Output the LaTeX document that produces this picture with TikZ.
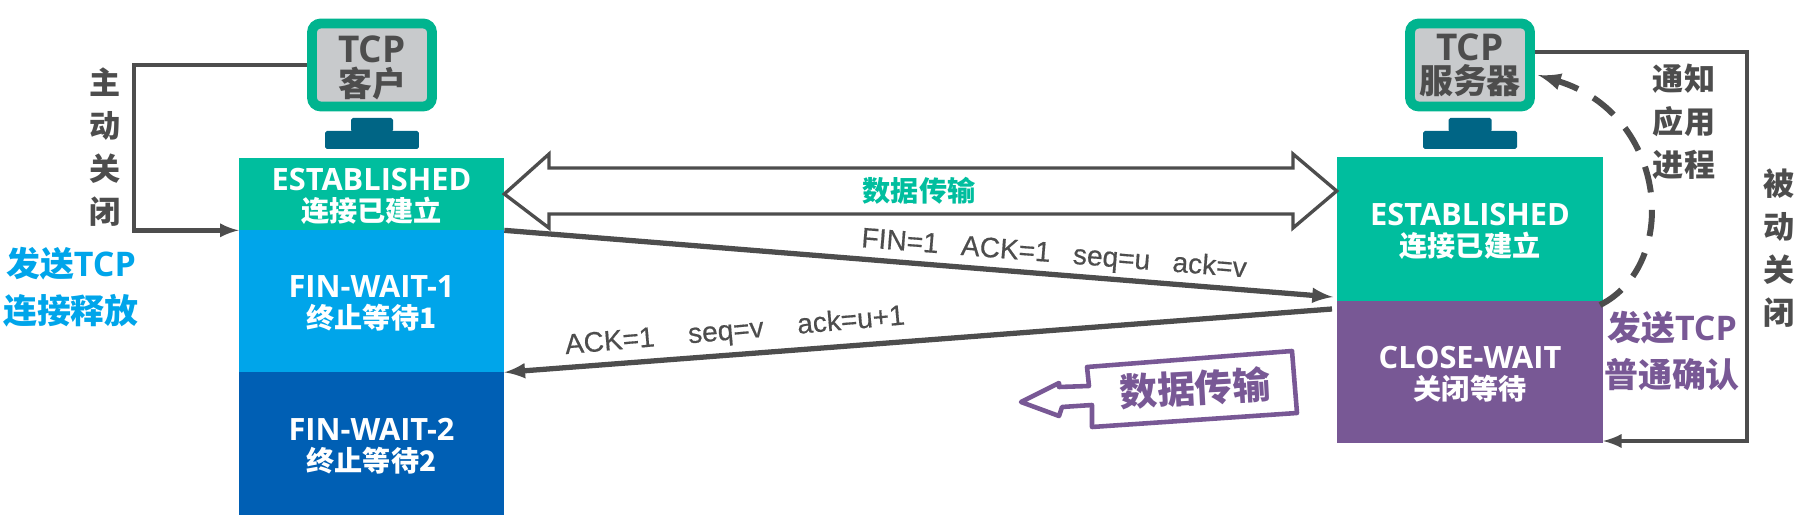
\documentclass[tikz,border=0pt]{standalone}
\usepackage{fontspec}
\setmainfont{Open Sans}
\newfontfamily\cjk{Noto Sans CJK SC}
\newfontfamily\arial[FakeBold=0.5]{Liberation Sans}
\definecolor{vert}{HTML}{00BE9E}
\definecolor{bleu}{HTML}{00A5EA}
\definecolor{marine}{HTML}{005FB4}
\definecolor{violet}{HTML}{785895}
\definecolor{cadre}{HTML}{00B48F}
\definecolor{ecran}{HTML}{C8CACC}
\definecolor{pied}{HTML}{006585}
\definecolor{gris}{HTML}{4D4D4D}
\newcommand{\zhetat}[1]{{\cjk\fontsize{16}{17.6}\selectfont #1}}
\newcommand{\zhecran}[1]{{\cjk\fontsize{19.3}{19.5}\selectfont #1}}
\newcommand{\haut}{\rule{0pt}{15.5pt}}
\tikzset{
  etat/.style={rectangle,minimum width=#1,inner sep=0pt,text=white,align=center,
    font=\fontsize{17.5}{17.6}\selectfont\bfseries},
  etat/.default=5.3cm,
  ecranbox/.style={rectangle,rounded corners=5pt,draw=cadre,fill=ecran,line width=5.6pt,
    minimum height=1.66cm,inner sep=0pt,text=gris,align=center,
    font=\fontsize{21}{19}\selectfont\bfseries},
  piedbox/.style={rectangle,fill=pied,inner sep=0pt,rounded corners=1pt},
  fleche/.style={-latex,gris,line width=2.6pt},
  colonne/.style={gris,align=center,font=\fontsize{17.7}{24.6}\selectfont\cjk\bfseries},
  signal/.style={gris,font=\fontsize{16}{18}\selectfont\arial},
  envoi/.style={align=center,font=\fontsize{19.3}{26.6}\selectfont\bfseries},
}
\begin{document}
\begin{tikzpicture}[x=0.02cm,y=-0.02cm]
  \useasboundingbox (0,0) rectangle (1805,523);

  \node[etat,fill=vert,minimum height=1.44cm] at (371.5,194) (cest) {\haut ESTABLISHED\\\zhetat{连接已建立}};
  \node[etat,fill=bleu,minimum height=2.84cm] at (371.5,301) (fwa) {\haut FIN-WAIT-1\\\zhetat{终止等待1}};
  \node[etat,fill=marine,minimum height=2.86cm] at (371.5,443.5) (fwb) {\haut FIN-WAIT-2\\\zhetat{终止等待2}};

  \node[etat=5.32cm,fill=vert,minimum height=2.88cm] at (1470,229) (sest) {\haut ESTABLISHED\\\zhetat{连接已建立}};
  \node[etat=5.32cm,fill=violet,minimum height=2.84cm] at (1470,372) (cw) {\haut CLOSE-WAIT\\\zhetat{关闭等待}};

  \node[ecranbox,minimum width=2.4cm] at (372,65) (cmon) {\rule{0pt}{18.5pt}TCP\\\zhecran{客户}};
  \node[piedbox,minimum width=0.84cm,minimum height=0.28cm] at (372,125) (cneck) {};
  \node[piedbox,minimum width=1.88cm,minimum height=0.36cm] at (372,140) (cbase) {};

  \node[ecranbox,minimum width=2.4cm] at (1470,65) (smon) {TCP\\\zhecran{服务器}};
  \node[piedbox,minimum width=0.86cm,minimum height=0.28cm] at (1470,125) (sneck) {};
  \node[piedbox,minimum width=1.88cm,minimum height=0.36cm] at (1470,140) (sbase) {};

  \coordinate (cturn) at (134,65);
  \coordinate (sout) at (1535,52);
  \coordinate (sturn) at (1747,52);
  \coordinate (sback) at (1603,441);
  \coordinate (finend) at (1333,297);
  \coordinate (ackstart) at (1332,309);
  \coordinate (notify) at (1600,305);
  \coordinate (notifyend) at (1538,75);

  \draw[fleche] (cmon.west) -- (cturn) |- (cest.south west);
  \draw[fleche] (sout) -- (sturn) |- (sback);
  \draw[fleche,line width=3pt] (cest.south east) -- (finend);
  \draw[fleche,line width=3pt] (ackstart) -- (fwa.south east);
  \draw[-latex,gris,line width=3.4pt,dash pattern=on 15pt off 10pt]
    (notify) .. controls (1680,265) and (1669,115) .. (notifyend);

  \draw[gris,line width=1.9pt,line join=miter]
    (sest.west |- 0,191) -- (1293,154) -- (1293,168) -- (549,168) -- (549,154)
    -- (cest.east) -- (549,228) -- (549,214) -- (1293,214) -- (1293,228) -- cycle;

  \node[text=vert,font=\fontsize{16}{18}\selectfont\cjk\bfseries] at (919,191) (data) {数据传输};
  \node[signal,rotate=-4.5] at (1054,255) (finlabel) {FIN=1\hspace{0.8em}ACK=1\hspace{0.8em}seq=u\hspace{0.8em}ack=v};
  \node[signal,rotate=5] at (735,332) (acklabel) {ACK=1\hspace{1.2em}seq=v\hspace{1.2em}ack=u+1};

  \node[colonne] at (105,147) (active) {主\\动\\关\\闭};
  \node[colonne] at (1684,122) (appli) {通知\\应用\\进程};
  \node[colonne] at (1779,248) (passive) {被\\动\\关\\闭};

  \node[envoi,text=bleu] at (71,287) (sendfin) {{\cjk 发送}TCP\\{\cjk 连接释放}};
  \node[envoi,text=violet] at (1672,351) (sendack) {{\cjk 发送}TCP\\{\cjk 普通确认}};

  \draw[violet,line width=2.6pt,line join=round]
    (1087,367) -- (1292,351) -- (1297,413) -- (1092,427) -- (1092,405) -- (1062,407)
    -- (1059,416) -- (1021,402) -- (1059,383) -- (1059,387) -- (1089,386) -- cycle;
  \node[text=violet,rotate=3,font=\fontsize{21.5}{24}\selectfont\cjk\bfseries] at (1195,388) (tag) {数据传输};
\end{tikzpicture}
\end{document}
